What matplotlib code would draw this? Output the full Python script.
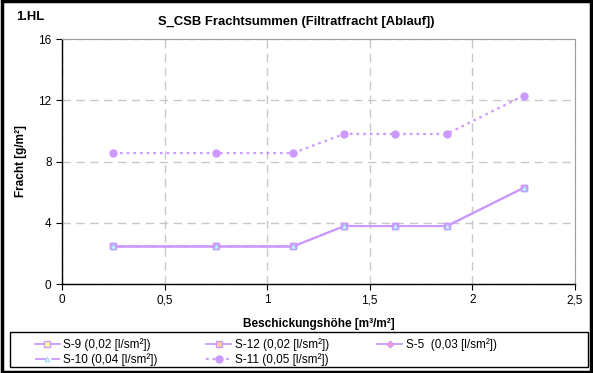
import matplotlib
matplotlib.use('Agg')
import matplotlib.pyplot as plt
from matplotlib.patches import Rectangle

plt.rcParams['font.family'] = ['Liberation Sans', 'DejaVu Sans']

# Beschickungshöhe [m³/m²]
x_vals = [0.25, 0.75, 1.125, 1.375, 1.625, 1.875, 2.25]
s9 = [2.45, 2.45, 2.45, 3.78, 3.78, 3.78, 6.28]
s12 = [2.45, 2.45, 2.45, 3.78, 3.78, 3.78, 6.28]
s5 = [2.45, 2.45, 2.45, 3.78, 3.78, 3.78, 6.28]
s10 = [2.45, 2.45, 2.45, 3.78, 3.78, 3.78, 6.28]
s11 = [8.55, 8.55, 8.55, 9.8, 9.8, 9.8, 12.3]

x_ticks = [0, 0.5, 1, 1.5, 2, 2.5]
x_tick_labels = ['0', '0,5', '1', '1,5', '2', '2,5']
y_ticks = [0, 4, 8, 12, 16]

LINE = '#CC99FF'

fig = plt.figure(figsize=(5.93, 3.73), dpi=100)
ax = fig.add_axes([0.1046, 0.2386, 0.8650, 0.6568])

h9, = ax.plot(x_vals, s9, color=LINE, lw=1.3, marker='s', ms=5,
              mfc='#FFFF99', mec=LINE, mew=1, label='S-9 (0,02 [l/sm²])')
h12, = ax.plot(x_vals, s12, color=LINE, lw=1.3, marker='s', ms=5,
               mfc='#FFCC99', mec=LINE, mew=1, label='S-12 (0,02 [l/sm²])')
h5, = ax.plot(x_vals, s5, color=LINE, lw=1.3, marker='D', ms=3.5,
              mfc='#FF99CC', mec=LINE, mew=0.8, label='S-5  (0,03 [l/sm²])')
h10, = ax.plot(x_vals, s10, color=LINE, lw=1.3, ls=(0, (6, 3)), marker='^', ms=3.5,
               mfc='#CCFFFF', mec='#99CCFF', mew=0.6, label='S-10 (0,04 [l/sm²])')
h11, = ax.plot(x_vals, s11, color=LINE, lw=1.6, ls=(0, (1.2, 1.8)), marker='o', ms=5,
               mfc=LINE, mec=LINE, label='S-11 (0,05 [l/sm²])')

ax.set_xlim(0, 2.5)
ax.set_ylim(0, 16)
ax.set_xticks(x_ticks)
ax.set_xticklabels(x_tick_labels)
ax.set_yticks(y_ticks)
ax.tick_params(direction='out', length=4, labelsize=8.5, width=0.8)
ax.grid(True, color='#C8C8C8', ls=(0, (6, 4)), lw=1.0)
ax.set_axisbelow(True)
for s in ['top', 'right']:
    ax.spines[s].set_color('#A0A0A0')
for s in ['left', 'bottom']:
    ax.spines[s].set_color('black')
    ax.spines[s].set_linewidth(1.0)

ax.set_xlabel('Beschickungshöhe [m³/m²]', fontsize=8.5, fontweight='bold', labelpad=8)
ax.set_ylabel('Fracht [g/m²]', fontsize=8.5, fontweight='bold', labelpad=8)
fig.text(0.499, 0.942, 'S_CSB Frachtsummen (Filtratfracht [Ablauf])',
         fontsize=9.4, fontweight='bold', ha='center', va='center')
fig.text(0.027, 0.955, '1.HL', fontsize=9.4, fontweight='bold', ha='left', va='center')

# legend: content without frame, frame drawn separately across the width
leg = fig.legend(handles=[h9, h10, h12, h11, h5], ncol=3, loc='upper left',
                 bbox_to_anchor=(0.059, 0.093), frameon=False, fontsize=8.5,
                 handlelength=2.1, borderpad=0, borderaxespad=0,
                 labelspacing=0.2, handletextpad=0.3, columnspacing=4.1)
fig.patches.append(Rectangle((0.0169, 0.0161), 0.9747, 0.0938, transform=fig.transFigure,
                             fill=False, edgecolor='black', lw=1.0))

fig.patches.append(Rectangle((0.004, 0.004), 0.992, 0.992, transform=fig.transFigure,
                             fill=False, edgecolor='black', lw=2.5))

fig.savefig('out.png', dpi=100)
